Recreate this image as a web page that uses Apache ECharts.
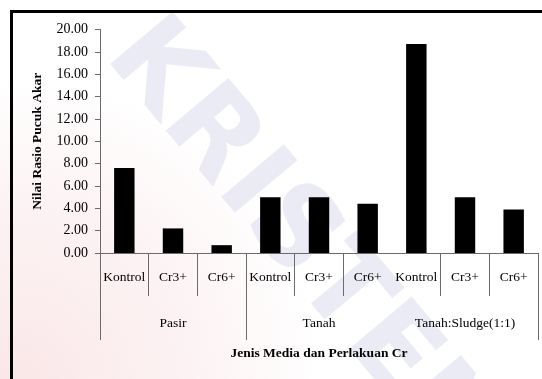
<!DOCTYPE html>
<html>
<head>
<meta charset="utf-8">
<script src="https://cdn.jsdelivr.net/npm/echarts@6/dist/echarts.min.js"></script>
<style>
  html, body { margin: 0; padding: 0; background: #ffffff; }
  #chart { width: 542px; height: 379px; }
</style>
</head>
<body>
<div id="chart"></div>
<script>
// Treatment per bar, grouped three by three under each growing medium
const treatments = ['Kontrol', 'Cr3+', 'Cr6+', 'Kontrol', 'Cr3+', 'Cr6+', 'Kontrol', 'Cr3+', 'Cr6+'];
const media = ['Pasir', 'Tanah', 'Tanah:Sludge(1:1)'];
// Shoot/root ratio for each treatment
const ratioValues = [7.6, 2.2, 0.7, 5.0, 5.0, 4.4, 18.7, 5.0, 3.9];
// Value axis range
const yMin = 0;
const yMax = 20;
const yStep = 2;

const serif = 'Liberation Serif, Times New Roman, serif';
const axisGray = '#6b6b6b';

const chart = echarts.init(document.getElementById('chart'));
chart.setOption({
  backgroundColor: '#ffffff',
  animation: false,
  graphic: [
    // faint repository watermark behind the plot
    {
      type: 'circle',
      z: -10,
      silent: true,
      shape: { cx: 20, cy: 379, r: 300 },
      style: {
        fill: {
          type: 'radial', x: 0.5, y: 0.5, r: 0.5,
          colorStops: [
            { offset: 0, color: 'rgba(240,175,180,0.30)' },
            { offset: 0.6, color: 'rgba(240,190,195,0.18)' },
            { offset: 1, color: 'rgba(240,190,195,0)' }
          ]
        }
      }
    },
    {
      type: 'text',
      z: -9,
      silent: true,
      x: 300,
      y: 245,
      rotation: -50 * Math.PI / 180,
      style: {
        text: 'KRISTEN',
        fontSize: 112,
        fontWeight: 900,
        fontFamily: 'DejaVu Sans',
        fill: 'rgba(218,218,236,0.55)',
        align: 'center',
        verticalAlign: 'middle'
      }
    },
    {
      type: 'rect',
      z: 100,
      silent: true,
      shape: { x: 11.5, y: 11.5, width: 700, height: 500 },
      style: { fill: 'none', stroke: '#000000', lineWidth: 3 }
    }
  ],
  grid: { left: 100, right: 4, top: 29.5, bottom: 126 },
  xAxis: [
    {
      type: 'category',
      data: treatments,
      position: 'bottom',
      axisLine: { show: true, lineStyle: { color: axisGray, width: 1 } },
      axisTick: {
        show: true,
        alignWithLabel: false,
        length: 43,
        lineStyle: { color: axisGray, width: 1 },
        // no divider on the boundary between the second and third media
        interval: function (index) { return index !== 6; }
      },
      axisLabel: {
        interval: 0,
        margin: 17,
        color: '#000000',
        fontFamily: serif,
        fontSize: 13.5
      }
    },
    {
      type: 'category',
      data: media,
      position: 'bottom',
      offset: 0,
      axisLine: { show: false },
      axisTick: {
        show: true,
        alignWithLabel: false,
        length: 87,
        lineStyle: { color: axisGray, width: 1 },
        interval: function (index) { return index !== 2; }
      },
      axisLabel: {
        interval: 0,
        margin: 63,
        color: '#000000',
        fontFamily: serif,
        fontSize: 13.5
      },
      name: 'Jenis Media dan Perlakuan Cr',
      nameLocation: 'middle',
      nameGap: 94,
      nameTextStyle: {
        color: '#000000',
        fontFamily: serif,
        fontSize: 13.5,
        fontWeight: 'bold'
      }
    }
  ],
  yAxis: {
    type: 'value',
    min: yMin,
    max: yMax,
    interval: yStep,
    splitLine: { show: false },
    axisLine: { show: true, lineStyle: { color: axisGray, width: 1 } },
    axisTick: { show: true, length: 5, lineStyle: { color: axisGray, width: 1 } },
    axisLabel: {
      margin: 12,
      color: '#000000',
      fontFamily: serif,
      fontSize: 14,
      formatter: function (v) { return v.toFixed(2); }
    },
    name: 'Nilai Rasio Pucuk Akar',
    nameLocation: 'middle',
    nameGap: 55,
    nameRotate: 90,
    nameTextStyle: {
      color: '#000000',
      fontFamily: serif,
      fontSize: 13.5,
      fontWeight: 'bold'
    }
  },
  series: [
    {
      type: 'bar',
      xAxisIndex: 0,
      data: ratioValues,
      barWidth: '42%',
      itemStyle: { color: '#000000' }
    }
  ]
});
</script>
</body>
</html>
